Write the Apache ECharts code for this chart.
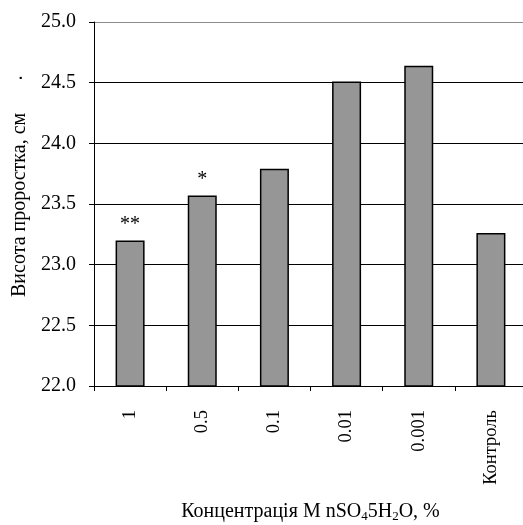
<!DOCTYPE html>
<html><head><meta charset="utf-8">
<script src="https://cdn.jsdelivr.net/npm/echarts@6/dist/echarts.min.js"></script>
<style>html,body{margin:0;padding:0;background:#fff}#c{width:523px;height:525px}</style>
</head><body><div id="c"></div>
<script>
var categories = ['1', '0.5', '0.1', '0.01', '0.001', 'Контроль'];
var values = [23.20, 23.57, 23.79, 24.51, 24.64, 23.26];
var marks = ['**', '*', '', '', '', ''];
var yTicks = [22.0, 22.5, 23.0, 23.5, 24.0, 24.5, 25.0];
var yTitle = 'Висота проростка, см';

var FONT = '"Liberation Serif", "Times New Roman", serif';
var chart = echarts.init(document.getElementById('c'));
chart.setOption({
  animation: false,
  backgroundColor: '#fff',
  grid: { left: 94, top: 22, width: 433, height: 364, containLabel: false, outerBoundsMode: 'none' },
  xAxis: {
    type: 'category',
    data: categories,
    axisLine: { lineStyle: { color: '#000', width: 1 } },
    axisTick: { show: true, length: 5, lineStyle: { color: '#000' } },
    axisLabel: { rotate: 90, margin: 24, color: '#000', fontFamily: FONT, fontSize: 18.5 },
    name: '{n|Концентрація M nSO}{s|4}{n|5H}{s|2}{n|O, %}',
    nameLocation: 'middle',
    nameGap: 115,
    nameTextStyle: {
      rich: {
        n: { fontFamily: FONT, fontSize: 20, color: '#000' },
        s: { fontFamily: FONT, fontSize: 13, color: '#000', verticalAlign: 'bottom', padding: [9, 0, 0, 0] }
      }
    }
  },
  yAxis: {
    type: 'value',
    min: yTicks[0],
    max: yTicks[yTicks.length - 1],
    interval: 0.5,
    axisLine: { show: true, lineStyle: { color: '#000', width: 1 } },
    axisTick: { show: true, length: 5, lineStyle: { color: '#000' } },
    axisLabel: { margin: 18, color: '#000', fontFamily: FONT, fontSize: 20,
      formatter: function (v) { return v.toFixed(1); } },
    splitLine: { show: true, lineStyle: { color: ['#000', '#000', '#000', '#000', '#000', '#000', '#8c8c8c'], width: 1 } }
  },
  series: [{
    type: 'bar',
    data: values,
    barWidth: 29,
    itemStyle: { color: '#969696', borderColor: '#000', borderWidth: 1.5 },
    label: {
      show: true, position: 'top', distance: 6,
      formatter: function (p) { return marks[p.dataIndex]; },
      fontFamily: FONT, fontSize: 20, color: '#000'
    }
  }],
  graphic: [{
    type: 'text',
    x: 20, y: 297,
    rotation: Math.PI / 2,
    style: { text: yTitle, font: '20px ' + FONT, fill: '#000', textAlign: 'left', textVerticalAlign: 'middle' }
  }, {
    type: 'text',
    x: 23, y: 78,
    rotation: Math.PI / 2,
    style: { text: '·', font: '20px ' + FONT, fill: '#000', textAlign: 'center', textVerticalAlign: 'middle' }
  }]
});
</script></body></html>
